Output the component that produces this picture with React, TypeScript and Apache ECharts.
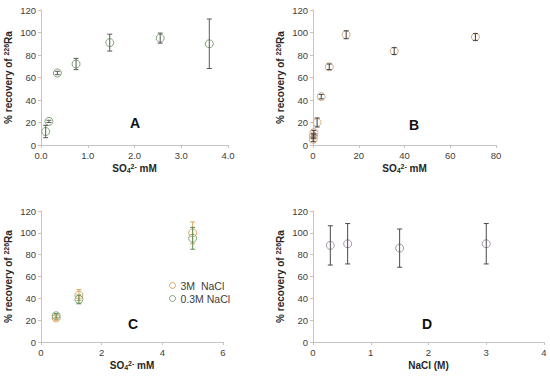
import React, { useEffect, useRef } from "react";
import * as echarts from "echarts";

// Panel A
const aX = [0.1, 0.17, 0.35, 0.75, 1.47, 2.55, 3.6];
const aY = [12, 21, 64, 72, 91, 95, 90];
const aErr = [5.5, 1, 1.5, 5, 7.5, 4.5, 22];
// Panel B
const bX = [0.1, 0.2, 0.4, 1.8, 3.6, 7.1, 14.5, 35.5, 71];
const bY = [5, 8, 11, 20, 43, 69.5, 98, 83.5, 96];
const bErr = [2, 2, 2, 4, 2, 2.5, 3.5, 3, 3];
// Panel C
const cX = [0.5, 1.25, 5];
const c3Y = [22, 43, 100];
const c3Err = [2, 5, 10];
const c03Y = [24, 39, 95];
const c03Err = [2, 4, 10];
// Panel D
const dX = [0.3, 0.6, 1.5, 3];
const dY = [88.5, 90, 86, 90];
const dErr = [18, 18.5, 17.5, 18.5];

const yTicks = { min: 0, max: 120, interval: 20 };
const panelLetters = ["A", "B", "C", "D"];
const legendNames = ["3M  NaCl", "0.3M NaCl"];

const FONT = "Liberation Sans, Arial, sans-serif";
const LABEL = "#404040";
const AXIS = "#c4c4c4";

function App() {
  const ref = useRef<HTMLDivElement>(null);
  useEffect(() => {
    const chart = echarts.init(ref.current!, null, { renderer: "svg" });

    const grids = [
      { left: 41, top: 10, width: 187, height: 135 },
      { left: 313, top: 10, width: 183, height: 135 },
      { left: 41, top: 211, width: 182, height: 131 },
      { left: 313, top: 211, width: 231, height: 131 },
    ];
    const xRanges = [
      { min: 0, max: 4, interval: 1, fmt: (v: number) => v.toFixed(1), name: "SO{sub|4}{sup|2-} mM" },
      { min: 0, max: 80, interval: 20, fmt: (v: number) => String(v), name: "SO{sub|4}{sup|2-} mM" },
      { min: 0, max: 6, interval: 2, fmt: (v: number) => String(v), name: "SO{sub|4}{sup|2-} mM" },
      { min: 0, max: 4, interval: 1, fmt: (v: number) => String(v), name: "NaCl (M)" },
    ];
    const nameRich = {
      sub: { fontSize: 7, fontWeight: "bold", color: "#262626", verticalAlign: "bottom", padding: [4, 0, 0, 0], fontFamily: FONT },
      sup: { fontSize: 7, fontWeight: "bold", color: "#262626", verticalAlign: "top", padding: [0, 0, 4, 0], fontFamily: FONT },
    };

    const xAxis = xRanges.map((r, i) => ({
      type: "value",
      gridIndex: i,
      min: r.min,
      max: r.max,
      interval: r.interval,
      name: r.name,
      nameLocation: "middle",
      nameGap: 18,
      nameTextStyle: { fontSize: 10, fontWeight: "bold", color: "#262626", fontFamily: FONT, rich: nameRich },
      axisLine: { lineStyle: { color: AXIS } },
      axisTick: { show: true, length: 3, lineStyle: { color: AXIS } },
      axisLabel: { fontSize: 9.5, color: LABEL, margin: 5, fontFamily: FONT, formatter: r.fmt },
      splitLine: { show: false },
    }));
    const yAxis = grids.map((_, i) => ({
      type: "value",
      gridIndex: i,
      ...yTicks,
      name: "% recovery of {sup|226}Ra",
      nameLocation: "middle",
      nameRotate: 90,
      nameGap: 27,
      nameTextStyle: { fontSize: 10, fontWeight: "bold", color: "#262626", fontFamily: FONT, rich: nameRich },
      axisLine: { show: true, lineStyle: { color: AXIS } },
      axisTick: { show: true, length: 3, lineStyle: { color: AXIS } },
      axisLabel: { fontSize: 9.5, color: LABEL, margin: 5, fontFamily: FONT },
      splitLine: { show: false },
    }));

    const errSeries = (xs: number[], ys: number[], es: number[], idx: number, color: string) => ({
      type: "custom",
      xAxisIndex: idx,
      yAxisIndex: idx,
      data: xs.map((x, k) => [x, ys[k] - es[k], ys[k] + es[k]]),
      renderItem: (params: any, api: any) => {
        const lo = api.coord([api.value(0), api.value(1)]);
        const hi = api.coord([api.value(0), api.value(2)]);
        const c = 2.5;
        const st = { stroke: color, lineWidth: 1 };
        return {
          type: "group",
          children: [
            { type: "line", shape: { x1: lo[0], y1: lo[1], x2: hi[0], y2: hi[1] }, style: st },
            { type: "line", shape: { x1: lo[0] - c, y1: lo[1], x2: lo[0] + c, y2: lo[1] }, style: st },
            { type: "line", shape: { x1: hi[0] - c, y1: hi[1], x2: hi[0] + c, y2: hi[1] }, style: st },
          ],
        };
      },
      silent: true,
      z: 3,
    });
    const scatter = (name: string, xs: number[], ys: number[], idx: number, color: string) => ({
      type: "scatter",
      name,
      xAxisIndex: idx,
      yAxisIndex: idx,
      data: xs.map((x, k) => [x, ys[k]]),
      symbol: "circle",
      symbolSize: 8,
      itemStyle: { color: "rgba(255,255,255,0)", borderColor: color, borderWidth: 1, opacity: 1 },
      z: 2,
    });

    const green = "#7fa577";
    const tan = "#d6ad86";
    const orange = "#dba766";
    const purple = "#a595ad";

    const letterPos = [
      [135, 123],
      [414, 125],
      [133, 324],
      [427, 324],
    ];

    chart.setOption({
      animation: false,
      backgroundColor: "#ffffff",
      grid: grids,
      xAxis,
      yAxis,
      legend: {
        orient: "vertical",
        left: 164,
        top: 275,
        itemWidth: 6,
        itemHeight: 6,
        itemGap: 2,
        textStyle: { fontSize: 10.5, color: LABEL, fontFamily: FONT },
        data: [
          { name: legendNames[0], icon: "circle", itemStyle: { color: "rgba(255,255,255,0)", borderColor: orange, borderWidth: 1 } },
          { name: legendNames[1], icon: "circle", itemStyle: { color: "rgba(255,255,255,0)", borderColor: green, borderWidth: 1 } },
        ],
      },
      graphic: panelLetters.map((t, i) => ({
        type: "text",
        x: letterPos[i][0],
        y: letterPos[i][1],
        style: {
          text: t,
          fontSize: 14,
          fontWeight: "bold",
          fill: "#111",
          fontFamily: FONT,
          align: "center",
          verticalAlign: "middle",
        },
      })),
      series: [
        scatter("A", aX, aY, 0, green),
        errSeries(aX, aY, aErr, 0, "#5a5a5a"),
        scatter("B", bX, bY, 1, tan),
        errSeries(bX, bY, bErr, 1, "#404040"),
        scatter(legendNames[0], cX, c3Y, 2, orange),
        errSeries(cX, c3Y, c3Err, 2, "#d9a45f"),
        scatter(legendNames[1], cX, c03Y, 2, green),
        errSeries(cX, c03Y, c03Err, 2, "#5f8f55"),
        scatter("D", dX, dY, 3, purple),
        errSeries(dX, dY, dErr, 3, "#4a4a4a"),
      ],
    });
    return () => chart.dispose();
  }, []);
  return (
    <div
      ref={ref}
      style={{ position: "absolute", left: 0, top: 0, width: 550, height: 376 }}
    />
  );
}

export default App;
